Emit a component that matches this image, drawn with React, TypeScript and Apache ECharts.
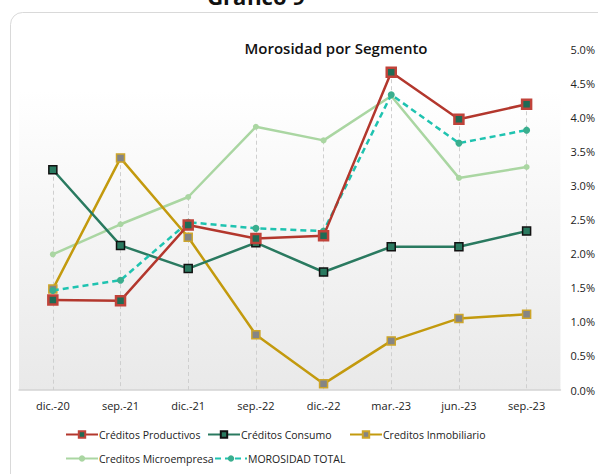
import React, { useEffect, useRef } from "react";
import * as echarts from "echarts";

const categories = ["dic.-20", "sep.-21", "dic.-21", "sep.-22", "dic.-22", "mar.-23", "jun.-23", "sep.-23"];
const productivos = [1.32, 1.31, 2.42, 2.22, 2.26, 4.66, 3.97, 4.19];
const consumo = [3.23, 2.12, 1.78, 2.16, 1.73, 2.1, 2.1, 2.33];
const inmobiliario = [1.48, 3.4, 2.24, 0.81, 0.09, 0.72, 1.05, 1.11];
const microempresa = [1.99, 2.43, 2.83, 3.86, 3.66, 4.31, 3.11, 3.27];
const total = [1.46, 1.61, 2.46, 2.37, 2.33, 4.33, 3.62, 3.81];
const yTicks = { min: 0, max: 5, interval: 0.5 };

const FONT = "Open Sans";

export default function App() {
  const ref = useRef<HTMLDivElement>(null);
  useEffect(() => {
    if (!ref.current) return;
    const chart = echarts.init(ref.current, null, { renderer: "svg" });
    const all = [productivos, consumo, inmobiliario, microempresa, total];
    const dropData = categories.map((c, i) => [
      { coord: [c, Math.max(...all.map((s) => s[i]))] },
      { coord: [c, 0] },
    ]);
    const legendBase = {
      itemWidth: 32,
      itemHeight: 8,
      textStyle: { fontFamily: FONT, fontSize: 10.5, color: "#222", padding: [0, 0, 0, -4] },
    };
    chart.setOption({
      animation: false,
      backgroundColor: "#fff",
      graphic: [
        {
          type: "rect",
          shape: { x: 10.5, y: 12.5, width: 600, height: 480, r: 12 },
          style: { fill: "#fff", stroke: "#d9d9d9", lineWidth: 1 },
          z: -10,
        },
        {
          type: "text",
          x: 256,
          y: 7,
          style: {
            text: "Gráfico 9",
            font: `bold 22px ${FONT}`,
            fill: "#111",
            textAlign: "center",
            textVerticalAlign: "bottom",
          },
        },
      ],
      title: {
        text: "Morosidad por Segmento",
        left: 331,
        top: 35,
        textAlign: "center",
        textStyle: { fontFamily: FONT, fontSize: 15, fontWeight: 600, color: "#111" },
      },
      grid: {
        left: 19,
        right: 35,
        top: 49,
        bottom: 84,
        show: true,
        borderWidth: 0,
        backgroundColor: new echarts.graphic.LinearGradient(0, 0, 0, 1, [
          { offset: 0, color: "#ffffff" },
          { offset: 0.12, color: "#ffffff" },
          { offset: 1, color: "#e9e9e9" },
        ]),
      },
      legend: [
        { ...legendBase, left: 60, top: 424, data: ["Créditos Productivos"] },
        { ...legendBase, left: 202, top: 424, data: ["Créditos Consumo"] },
        { ...legendBase, left: 344, top: 424, data: ["Creditos Inmobiliario"] },
        { ...legendBase, left: 60, top: 448, data: ["Creditos Microempresa"] },
        { ...legendBase, left: 209, top: 448, data: ["MOROSIDAD TOTAL"] },
      ],
      xAxis: {
        type: "category",
        data: categories,
        boundaryGap: true,
        axisLine: { lineStyle: { color: "#d4d4d4", width: 1.5 } },
        axisTick: { show: false },
        axisLabel: { fontFamily: FONT, fontSize: 11, color: "#222", margin: 10 },
        splitLine: { show: false },
      },
      yAxis: {
        type: "value",
        position: "right",
        ...yTicks,
        axisLine: { show: false },
        axisTick: { show: false },
        splitLine: { show: false },
        axisLabel: {
          fontFamily: FONT,
          fontSize: 11,
          color: "#222",
          margin: 10,
          formatter: (v: number) => v.toFixed(1) + "%",
        },
      },
      series: [
        {
          name: "Créditos Productivos",
          type: "line",
          data: productivos,
          symbol: "rect",
          symbolSize: 9,
          lineStyle: { color: "#B3372D", width: 2.5 },
          itemStyle: { color: "#1F6B55", borderColor: "#C0433A", borderWidth: 2.5 },
          z: 5,
          markLine: {
            silent: true,
            symbol: "none",
            label: { show: false },
            lineStyle: { color: "#cfcfcf", type: [4, 3], width: 1 },
            data: dropData,
            z: 1,
          },
        },
        {
          name: "Créditos Consumo",
          type: "line",
          data: consumo,
          symbol: "rect",
          symbolSize: 8,
          lineStyle: { color: "#2A7A60", width: 2.5 },
          itemStyle: { color: "#2A7A60", borderColor: "#111", borderWidth: 1.5 },
          z: 4,
        },
        {
          name: "Creditos Inmobiliario",
          type: "line",
          data: inmobiliario,
          symbol: "rect",
          symbolSize: 8,
          lineStyle: { color: "#C39A0E", width: 2.5 },
          itemStyle: { color: "#858585", borderColor: "#CDA52A", borderWidth: 1.5 },
          z: 3,
        },
        {
          name: "Creditos Microempresa",
          type: "line",
          data: microempresa,
          symbol: "circle",
          symbolSize: 6,
          lineStyle: { color: "#AAD6A2", width: 2.5 },
          itemStyle: { color: "#AAD6A2", borderWidth: 0 },
          z: 2,
        },
        {
          name: "MOROSIDAD TOTAL",
          type: "line",
          data: total,
          symbol: "circle",
          symbolSize: 7,
          lineStyle: { color: "#1FC3B0", width: 2.5, type: [6, 4] },
          itemStyle: { color: "#3AAE8E", borderWidth: 0 },
          z: 4,
        },
      ],
    });
    return () => chart.dispose();
  }, []);
  return (
    <div
      ref={ref}
      style={{ position: "fixed", left: 0, top: 0, width: 598, height: 474 }}
    />
  );
}
